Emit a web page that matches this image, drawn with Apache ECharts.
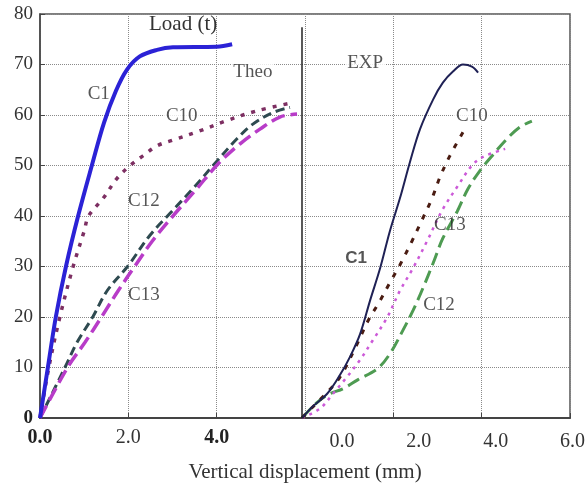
<!DOCTYPE html>
<html>
<head>
<meta charset="utf-8">
<script src="https://cdn.jsdelivr.net/npm/echarts@6/dist/echarts.min.js"></script>
<style>html,body{margin:0;padding:0;background:#fff;}#chart{width:588px;height:488px;}</style>
</head>
<body>
<div id="chart"></div>
<script>
// ---- Tick labels ----
const yTicks = [0, 10, 20, 30, 40, 50, 60, 70, 80];
const theoTickLabels = ['0.0', '2.0', '4.0'];
const expTickLabels = ['0.0', '2.0', '4.0', '6.0'];

// ---- Theoretical curves: [displacement (mm), load (t)] ----
const theoC1 = [[0,0],[0.18,10.1],[0.36,20.1],[0.59,30.1],[0.86,39.9],[1.18,50.2],[1.45,58.5],[1.72,64.8],[1.97,69.0],[2.26,71.6],[2.65,72.9],[3.01,73.4],[4.0,73.5],[4.35,74.0]];
const theoC10 = [[0,0],[0.2,10],[0.45,20],[0.75,30],[1.0,37],[1.1,40],[1.43,43.5],[1.74,47.4],[2.04,50],[2.33,51.9],[2.65,53.9],[3.0,55],[3.6,56.8],[4.2,58.8],[4.9,60.8],[5.65,62.3]];
const theoC12 = [[0,0],[0.57,10.1],[0.84,15],[1.2,20.1],[1.52,25.2],[1.99,30.1],[2.49,36.2],[2.94,40.5],[3.46,45.4],[4.01,50.9],[4.46,55.3],[4.82,58.2],[5.28,60.5],[5.66,61.5]];
const theoC13 = [[0,0],[0.63,10.1],[1.02,15],[1.4,20.1],[1.77,25.2],[2.15,30.1],[2.54,35],[3.01,40],[3.55,45.4],[4.03,50.3],[4.53,54.3],[4.98,57.2],[5.43,59.6],[5.82,60.2]];

// ---- Experimental curves: [displacement (mm), load (t)] ----
const expC1 = [[0,0],[0.28,2.3],[0.65,4.8],[0.98,8.5],[1.24,12.1],[1.5,16.6],[1.76,23.3],[2.02,29.7],[2.27,37],[2.53,43.5],[2.79,50.7],[3.05,57.2],[3.39,63.1],[3.64,66.4],[3.9,68.6],[4.16,70.0],[4.39,69.6],[4.55,68.4]];
const expC10 = [[0,0],[0.21,1.7],[0.54,4.2],[0.98,8.1],[1.42,14.6],[1.71,19.3],[2.0,23],[2.27,26.8],[2.53,30.3],[2.84,35],[3.1,39.2],[3.36,43.5],[3.57,47.8],[3.82,51.9],[4.16,56.6]];
const expC13 = [[0,0],[0.47,1.9],[0.8,4.8],[1.16,8.1],[1.5,11.5],[1.83,15.4],[2.2,19.9],[2.53,25.2],[2.87,29.7],[3.23,35],[3.62,41.1],[4.03,46],[4.39,50],[4.68,51.7],[5.25,53.3]];
const expC12 = [[0,0],[0.41,3.2],[0.72,4.8],[1.06,5.8],[1.45,7.6],[1.94,9.7],[2.27,12.7],[2.61,17.4],[2.87,21.3],[3.13,25.8],[3.39,30.7],[3.64,35.6],[4.01,40.9],[4.29,45.4],[4.6,49],[4.91,51.9],[5.3,55.3],[5.63,57.6],[5.94,58.8]];

// ---- Curve annotations: [text, displacement, load] ----
const theoNotes = [['Theo',4.82,68.6],['C10',3.21,59.8]];
const theoNotesPlain = [['C1',1.33,64.1],['C12',2.35,42.9],['C13',2.35,24.4]];
const expNotes = [['EXP',1.63,70.3],['C10',4.39,59.8]];
const expNotesPlain = [['C13',3.82,38.2],['C12',3.54,22.3]];
const expNotesSans = [['C1',1.40,31.7]];

const SERIF = 'Liberation Serif, Times New Roman, serif';
const chart = echarts.init(document.getElementById('chart'), null, {renderer: 'canvas'});

function line(name, data, xi, color, width, type, z) {
  return {
    name, type: 'line', data, xAxisIndex: xi, yAxisIndex: 0,
    smooth: 0.35, symbol: 'none', silent: true, z: z || 2,
    lineStyle: {color, width, type, cap: 'butt'}
  };
}
function notes(data, xi, family, weight, size, bg) {
  return {
    type: 'scatter', data, xAxisIndex: xi, yAxisIndex: 0, symbolSize: 0, silent: true, z: 5,
    encode: {x: 1, y: 2},
    label: {
      show: true, position: 'inside', formatter: p => p.data[0],
      fontFamily: family, fontSize: size, fontWeight: weight, color: '#2a2a2a',
      backgroundColor: bg ? '#fff' : 'transparent', padding: [0, 2]
    }
  };
}

const expC1Series = line('EXP C1', expC1, 1, '#1f2155', 2, 'solid', 3);
expC1Series.markLine = {
  silent: true, symbol: 'none', label: {show: false},
  lineStyle: {color: '#222', width: 1.5, type: 'solid'},
  data: [[{coord: [0, 0]}, {coord: [0, 77.4]}]]
};

chart.setOption({
  animation: false,
  backgroundColor: '#fff',
  title: {
    text: 'Load (t)', left: 149, top: 14, padding: 0,
    textStyle: {fontFamily: SERIF, fontSize: 21, fontWeight: 'normal', color: '#333'}
  },
  grid: [
    {left: 40, right: 18, top: 14, bottom: 66, show: true, borderColor: '#555', borderWidth: 1.5, containLabel: false},
    {left: 342, right: 6, top: 14, bottom: 66, show: false, containLabel: false}
  ],
  xAxis: [
    {
      type: 'value', gridIndex: 0, min: 0, max: 12, interval: 2,
      name: 'Vertical displacement (mm)', nameLocation: 'middle', nameGap: 44,
      nameTextStyle: {fontFamily: SERIF, fontSize: 21, color: '#333'},
      axisLine: {show: true, lineStyle: {color: '#444', width: 2}},
      axisTick: {show: true, inside: true, length: 5, lineStyle: {color: '#444'}},
      splitLine: {show: true, lineStyle: {color: '#8a8a8a', type: 'dotted', width: 1}},
      axisLabel: {
        margin: 10, fontFamily: SERIF, fontSize: 20, color: '#333',
        formatter: v => {
          const s = theoTickLabels[v / 2];
          if (s === undefined) return '';
          return (v === 0 || v === 4) ? '{b|' + s + '}' : s;
        },
        rich: {b: {fontFamily: SERIF, fontSize: 20, fontWeight: 'bold', color: '#222'}}
      }
    },
    {
      type: 'value', gridIndex: 0, min: -6.77, max: 6.925, show: false,
      splitLine: {show: false}
    },
    {
      type: 'value', gridIndex: 1, min: 0, max: 6.2, interval: 2,
      axisLine: {show: false}, axisTick: {show: false}, splitLine: {show: false},
      axisLabel: {
        margin: 10, fontFamily: SERIF, fontSize: 20, color: '#333',
        showMinLabel: true,
        formatter: v => expTickLabels[v / 2] || ''
      }
    }
  ],
  yAxis: [
    {
      type: 'value', gridIndex: 0, min: yTicks[0], max: yTicks[yTicks.length - 1], interval: 10,
      axisLine: {show: true, lineStyle: {color: '#444', width: 1.5}},
      axisTick: {show: true, inside: true, length: 5, lineStyle: {color: '#444'}},
      splitLine: {show: true, lineStyle: {color: '#8a8a8a', type: 'dotted', width: 1}},
      axisLabel: {
        margin: 7, fontFamily: SERIF, fontSize: 19, color: '#333',
        formatter: v => v === 0 ? '{b|0}' : String(v),
        rich: {b: {fontFamily: SERIF, fontSize: 19, fontWeight: 'bold', color: '#222'}}
      }
    },
    {type: 'value', gridIndex: 1, min: 0, max: 1, show: false, splitLine: {show: false}}
  ],
  series: [
    line('Theo C12', theoC12, 0, '#2e4a50', 3, [9, 5], 2),
    line('Theo C13', theoC13, 0, '#b83cc8', 3.5, [14, 6], 2),
    line('Theo C10', theoC10, 0, '#7d2f62', 3.5, [4, 7], 2),
    line('Theo C1', theoC1, 0, '#2b22d6', 4, 'solid', 3),
    line('EXP C12', expC12, 1, '#4e9b52', 3, [13, 6], 2),
    line('EXP C13', expC13, 1, '#cc5ad8', 2.5, [3, 5], 2),
    line('EXP C10', expC10, 1, '#4a1c12', 3, [5, 8], 2),
    expC1Series,
    notes(theoNotes, 0, SERIF, 'normal', 19, true),
    notes(theoNotesPlain, 0, SERIF, 'normal', 19, false),
    notes(expNotes, 1, SERIF, 'normal', 19, true),
    notes(expNotesPlain, 1, SERIF, 'normal', 19, false),
    notes(expNotesSans, 1, 'Liberation Sans, Arial, sans-serif', 'bold', 17, true)
  ]
});
</script>
</body>
</html>
